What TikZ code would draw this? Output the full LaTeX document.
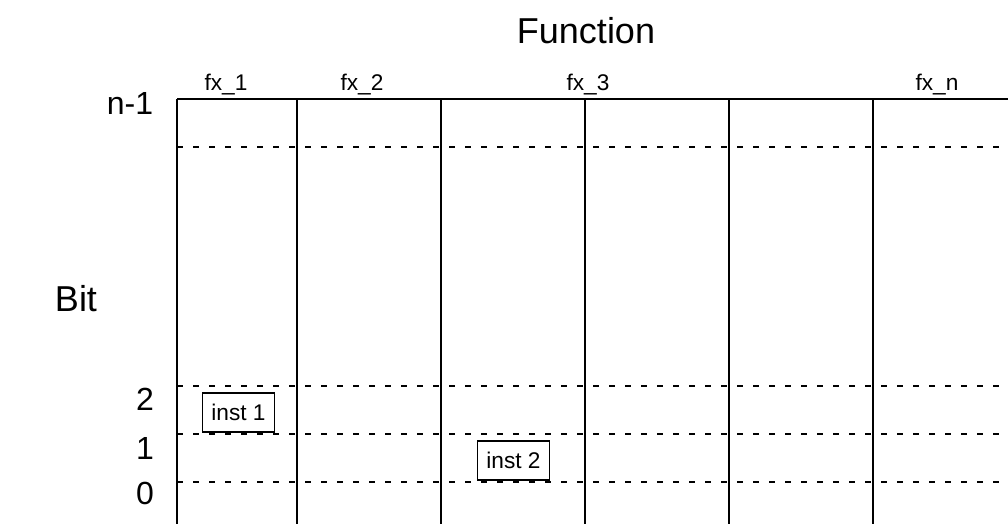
\documentclass[tikz,border=0pt]{standalone}
\usepackage{fontspec}
\setmainfont{Liberation Sans}
\begin{document}
\begin{tikzpicture}[x=0.75pt,y=-0.75pt,
  grid/.style={line width=1.5pt},
  dline/.style={line width=1.5pt,dash pattern=on 4.5pt off 7.5pt},
  big/.style={font=\fontsize{24}{26}\selectfont,inner sep=0pt},
  fx/.style={font=\fontsize{17}{19}\selectfont,inner sep=0pt},
  inst/.style={draw,line width=1.2pt,font=\fontsize{17}{19}\selectfont,inner sep=0pt,minimum width=54pt,minimum height=29pt}]
\useasboundingbox (0,0) rectangle (1008,524);
% top border
\coordinate (tl) at (177,99);
\coordinate (tr) at (1008,99);
\draw[grid] (tl) -- (tr);
% verticals
\foreach \x/\n in {177/a,297/b,441/c,585/d,729/e,873/f}{
  \coordinate (v\n t) at (\x,99);
  \coordinate (v\n b) at (\x,524);
  \draw[grid] (v\n t) -- (v\n b);
}
% dashed rows
\foreach \y/\n in {147/r3,386/r2,434/r1,482/r0}{
  \coordinate (\n l) at (177,\y);
  \coordinate (\n r) at (1008,\y);
  \draw[dline] (\n l) -- (\n r);
}
% labels
\node[big,font=\fontsize{27}{30}\selectfont,anchor=base] (function) at (586,44) {Function};
\node[big,font=\fontsize{27}{29}\selectfont,anchor=base] (bit) at (76,312) {Bit};
\node[big,anchor=base] (nm1) at (130,115) {n-1};
\node[big,anchor=base] (b2) at (145,411) {2};
\node[big,anchor=base] (b1) at (145,459) {1};
\node[big,anchor=base] (b0) at (145,504) {0};
\node[fx,anchor=base] (fx1) at (226,91) {fx\_1};
\node[fx,anchor=base] (fx2) at (362,91) {fx\_2};
\node[fx,anchor=base] (fx3) at (588,91) {fx\_3};
\node[fx,anchor=base] (fxn) at (937,91) {fx\_n};
\node[inst] (inst1) at (238.5,412.5) {inst 1};
\node[inst] (inst2) at (513.5,460.5) {inst 2};
\end{tikzpicture}
\end{document}
